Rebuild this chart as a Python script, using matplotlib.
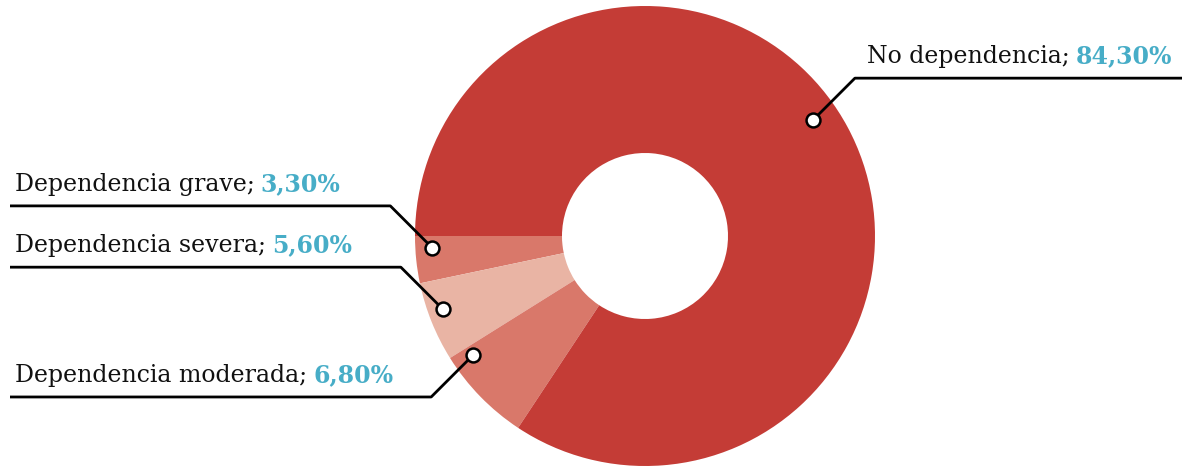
import matplotlib

matplotlib.use("Agg")  # headless
import matplotlib.pyplot as plt
import numpy as np

# Data (order: counter-clockwise from the 9 o'clock position)
labels = ["Dependencia grave", "Dependencia severa", "Dependencia moderada", "No dependencia"]
values = [3.3, 5.6, 6.8, 84.3]
pct_labels = ["3,30%", "5,60%", "6,80%", "84,30%"]
colors = ["#D9786A", "#E9B4A4", "#D9786A", "#C43C36"]

# Layout of the callouts (angle + radius of the dot on the ring, side of the
# label, direction of the 45 degree leader: +1 goes up, -1 goes down)
anchor_deg = [183.2, 199.9, 214.7, 34.6]
anchor_r = [213, 215, 209, 204]
side = ["left", "left", "left", "right"]
vdir = [1, 1, -1, 1]

W, H = 1182, 466
cx, cy = 645, 230
r_out, r_in = 230, 83
leg = 42  # length of the diagonal leg (px)
teal = "#47ADC7"
font_kw = dict(family="DejaVu Serif", fontsize=17)

fig = plt.figure(figsize=(W / 100, H / 100), dpi=100)
ax = fig.add_axes([0, 0, 1, 1])

ax.pie(
    values,
    colors=colors,
    startangle=180,
    counterclock=True,
    radius=r_out,
    center=(cx, cy),
    wedgeprops=dict(width=r_out - r_in, linewidth=0),
)
ax.set_xlim(0, W)
ax.set_ylim(0, H)
ax.set_aspect("equal")
ax.axis("off")

renderer = fig.canvas.get_renderer()

for lab, pct, ang, rr, sd, vd in zip(labels, pct_labels, anchor_deg, anchor_r, side, vdir):
    a = np.deg2rad(ang)
    px = cx + rr * np.cos(a)
    py = cy + rr * np.sin(a)
    if sd == "left":
        ex = px - leg
        edge = 10
    else:
        ex = px + leg
        edge = W
    ey = py + vd * leg
    ax.plot([px, ex, edge], [py, ey, ey], color="black", lw=2, solid_capstyle="butt", zorder=3)
    ax.plot(px, py, "o", ms=10, mfc="white", mec="black", mew=1.8, zorder=4)

    tx = 15 if sd == "left" else ex + 12
    ty = ey + 15
    t1 = ax.text(tx, ty, lab + ";", color="#111111", va="baseline", ha="left", **font_kw)
    bb = t1.get_window_extent(renderer=renderer)
    ax.text(bb.x1 + 6, ty, pct, color=teal, fontweight="bold", va="baseline", ha="left", **font_kw)

fig.savefig("out.png", dpi=100)
